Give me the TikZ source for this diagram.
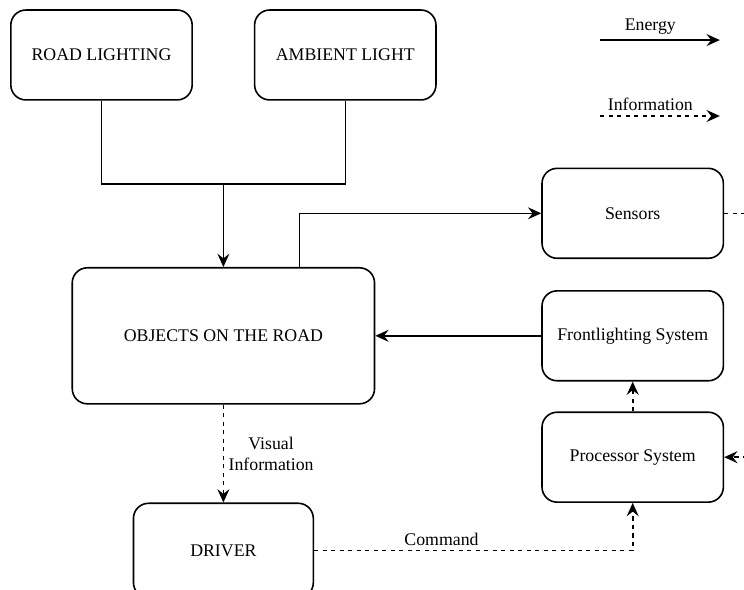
\documentclass[tikz,border=0pt]{standalone}
\usepackage{fontspec}
\setmainfont{Liberation Serif}
\usetikzlibrary{arrows.meta, calc, positioning}

\begin{document}
\begin{tikzpicture}[
    font=\fontsize{13.4}{16}\selectfont,
    block/.style={draw, line width=1.2pt, rounded corners=0.4cm, minimum width=4.8cm, minimum height=2.38cm},
    energy/.style={-{Stealth[length=10pt,width=9pt,inset=3.5pt]}, line width=1.2pt},
    info/.style={-{Stealth[length=10pt,width=9pt,inset=3.5pt]}, line width=1.2pt, dash pattern=on 3.2pt off 3.2pt}
]
    \useasboundingbox (0,0) rectangle (19.69,-15.59);

    \node[block] (road) at (2.686,-1.455) {ROAD LIGHTING};
    \node[block, right=1.61cm of road] (ambient) {AMBIENT LIGHT};
    \coordinate[below=2.2cm of {$(road.south)!0.5!(ambient.south)$}] (merge);

    \node[block, minimum width=8cm, minimum height=3.6cm, below=2.2cm of merge] (objects) {OBJECTS ON THE ROAD};
    \node[block, right=4.39cm of objects] (front) {Frontlighting System};
    \node[block, above=0.82cm of front] (sensors) {Sensors};
    \node[block, below=0.79cm of front] (proc) {Processor System};
    \node[block, minimum width=4.76cm, minimum height=2.5cm, below=2.59cm of objects] (driver) {DRIVER};

    \coordinate[right=0.61cm of sensors.east] (sensout);
    \coordinate[right=0.61cm of proc.east] (procin);

    % energy paths
    \draw[line width=1.2pt] (road.south) |- (merge) -| (ambient.south);
    \draw[energy] (merge) -- (objects.north);
    \draw[energy] ([xshift=2.01cm]objects.north) |- (sensors.west);
    \draw[energy] (front.west) -- (objects.east);

    % information paths
    \draw[info, -] (sensors.east) -- (sensout);
    \draw[info] (procin) -- (proc.east);
    \draw[info] (proc.north) -- (front.south);
    \draw[info] (objects.south) -- node[right, align=center] {Visual\\Information} (driver.north);
    \draw[info] (driver.east) -| node[above, pos=0.2] {Command} (proc.south);

    % legend
    \coordinate (energyA) at (15.88,-1.06);
    \coordinate (energyB) at (19.05,-1.06);
    \coordinate (infoA) at (15.88,-3.07);
    \coordinate (infoB) at (19.05,-3.07);
    \draw[energy] (energyA) -- node[above, pos=0.42] {Energy} (energyB);
    \draw[info] (infoA) -- node[above, pos=0.42] {Information} (infoB);
\end{tikzpicture}
\end{document}
